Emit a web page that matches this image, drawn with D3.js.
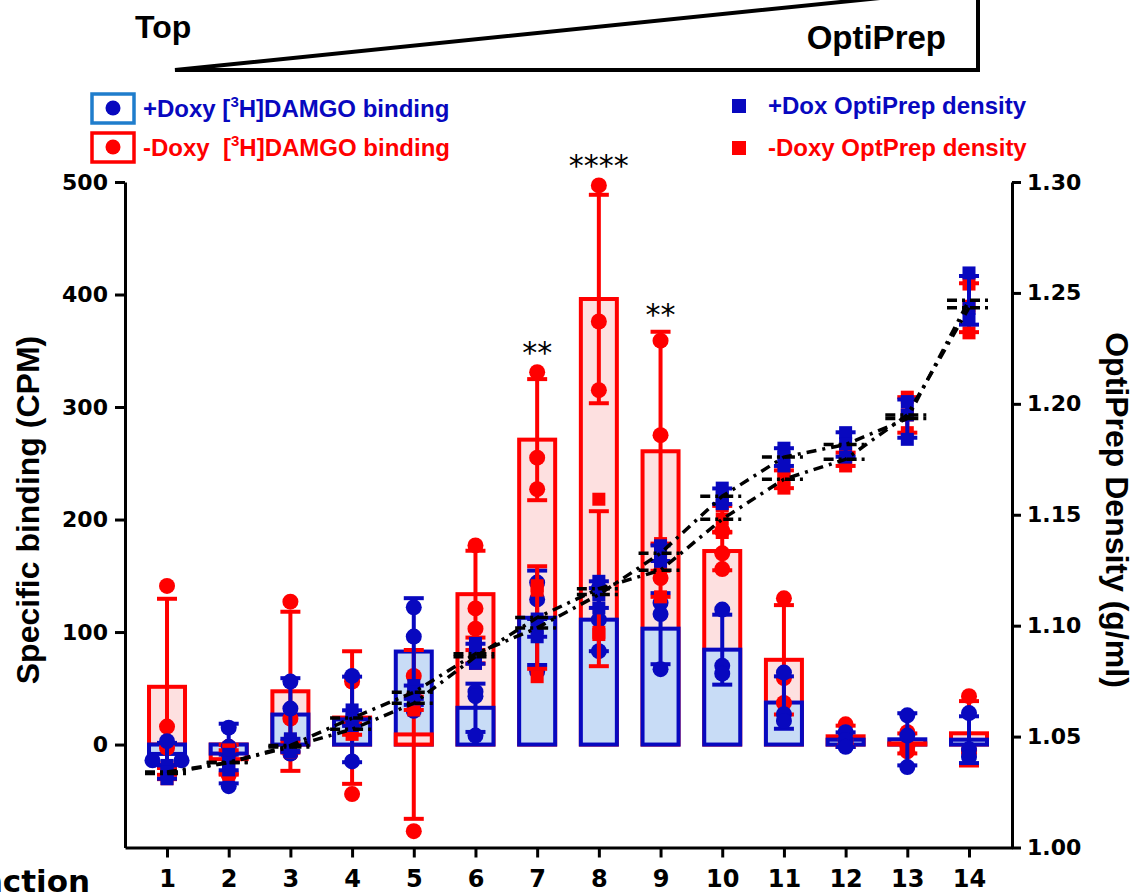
<!DOCTYPE html>
<html>
<head>
<meta charset="utf-8">
<script src="https://cdn.jsdelivr.net/npm/d3@7"></script>
<style>
  body { margin: 0; background: #fff; }
  svg { display: block; }
</style>
</head>
<body>
<div id="chart"></div>
<script>
// Fractions of the OptiPrep gradient (top -> bottom)
const fractions = d3.range(1, 15);

// [3H]DAMGO specific binding (CPM), three replicates per fraction
const plusBinding = [
  [3, -14, -14], [15, -37, -2], [56, 32, -8], [61, 21, -15], [122, 96, 30],
  [47, 43, 8], [144, 129, 65], [139, 111, 83], [126, 116, 67], [120, 70, 63],
  [64, 27, 21], [11, 4, -2], [26, 8, -20], [28, -4, -11]
];
const minusBinding = [
  [141, 16, -3], [-2, -10, -27], [127, 23, -8], [60, 56, -44], [61, 43, -77],
  [177, 121, 103], [331, 255, 227], [497, 376, 315], [359, 275, 148], [190, 170, 156],
  [130, 59, 37], [18, 4, 0], [11, -2, -6], [43, -5, -8]
];

// OptiPrep density (g/ml), three replicates per fraction
const plusDensity = [
  [1.037, 1.034, 1.031], [1.042, 1.038, 1.035], [1.049, 1.046, 1.043], [1.062, 1.058, 1.055],
  [1.073, 1.070, 1.067], [1.092, 1.087, 1.083], [1.103, 1.099, 1.095], [1.120, 1.114, 1.108],
  [1.136, 1.133, 1.129], [1.162, 1.158, 1.155], [1.180, 1.176, 1.172], [1.187, 1.182, 1.176],
  [1.201, 1.195, 1.184], [1.259, 1.243, 1.238]
];
const minusDensity = [
  [1.036, 1.033, 1.031], [1.044, 1.038, 1.033], [1.048, 1.045, 1.043], [1.056, 1.053, 1.051],
  [1.068, 1.065, 1.062], [1.089, 1.086, 1.083], [1.118, 1.116, 1.077], [1.157, 1.097, 1.096],
  [1.137, 1.125, 1.113], [1.154, 1.148, 1.142], [1.170, 1.166, 1.162], [1.178, 1.175, 1.172],
  [1.203, 1.195, 1.187], [1.254, 1.244, 1.232]
];

// significance marks
const stars = [
  {fraction: 7, label: "**", value: 360},
  {fraction: 8, label: "****", value: 526},
  {fraction: 9, label: "**", value: 393}
];

const leftTicks = [0, 100, 200, 300, 400, 500];
const rightTicks = [1.00, 1.05, 1.10, 1.15, 1.20, 1.25, 1.30];

const blue = "#0808bf";
const red = "#ff0000";
const blueFill = "#c8dcf6";
const redFill = "#fde0e0";

const width = 1138, height = 896;

const svg = d3.select("#chart")
  .append("svg")
  .attr("width", width)
  .attr("height", height);

// Scales
const x = d3.scaleLinear().domain([0.319, 14.697]).range([125, 1012]);
const yL = d3.scaleLinear().domain([-91.5, 500]).range([847.5, 182]);
const yR = d3.scaleLinear().domain([1.0, 1.3]).range([847.5, 182]);

const stat = arr => ({mean: d3.mean(arr), sd: d3.deviation(arr)});

// Top gradient triangle
svg.append("path")
  .attr("d", "M175,70 L978,70 L978,-12 Z")
  .attr("fill", "none")
  .attr("stroke", "black")
  .attr("stroke-width", 4)
  .attr("stroke-linejoin", "miter");

svg.append("text")
  .attr("x", 135).attr("y", 38)
  .attr("font-family", "Liberation Sans, Arial, sans-serif")
  .attr("font-weight", "bold")
  .attr("font-size", 32)
  .text("Top");

svg.append("text")
  .attr("x", 946).attr("y", 49)
  .attr("text-anchor", "end")
  .attr("font-family", "Liberation Sans, Arial, sans-serif")
  .attr("font-weight", "bold")
  .attr("font-size", 33)
  .text("OptiPrep");

// Bars: draw the taller one first so the shorter stays visible
const barW = 36;
fractions.forEach((f, i) => {
  const bars = [
    {m: stat(minusBinding[i]).mean, stroke: red, fill: redFill},
    {m: stat(plusBinding[i]).mean, stroke: blue, fill: blueFill}
  ].sort((a, b) => Math.abs(b.m) - Math.abs(a.m));
  bars.forEach(b => {
    svg.append("rect")
      .attr("x", x(f) - barW / 2)
      .attr("y", Math.min(yL(b.m), yL(0)))
      .attr("width", barW)
      .attr("height", Math.abs(yL(b.m) - yL(0)))
      .attr("fill", b.fill)
      .attr("stroke", b.stroke)
      .attr("stroke-width", 4);
  });
});

// error bar + replicate points
function drawSeries(data, scale, color, shape) {
  const g = svg.append("g");
  fractions.forEach((f, i) => {
    const s = stat(data[i]);
    const cx = x(f);
    g.append("line")
      .attr("x1", cx).attr("x2", cx)
      .attr("y1", scale(s.mean - s.sd)).attr("y2", scale(s.mean + s.sd))
      .attr("stroke", color).attr("stroke-width", 4);
    [s.mean - s.sd, s.mean + s.sd].forEach(v => {
      g.append("line")
        .attr("x1", cx - 10).attr("x2", cx + 10)
        .attr("y1", scale(v)).attr("y2", scale(v))
        .attr("stroke", color).attr("stroke-width", 4);
    });
    // spread replicates that sit exactly on top of each other
    const vals = data[i];
    const offs = vals.map((v, k) => {
      const same = vals.map((vv, j) => j).filter(j => vals[j] === v);
      if (same.length < 2) return 0;
      return (same.indexOf(k) - (same.length - 1) / 2) * 29;
    });
    vals.forEach((v, k) => {
      const y = scale(v);
      if (shape === "circle") {
        g.append("circle")
          .attr("cx", cx + offs[k]).attr("cy", y).attr("r", 8)
          .attr("fill", color);
      } else {
        g.append("rect")
          .attr("x", cx + offs[k] - 6.5).attr("y", y - 6.5)
          .attr("width", 13).attr("height", 13)
          .attr("fill", color);
      }
    });
  });
}

drawSeries(minusBinding, yL, red, "circle");
drawSeries(plusBinding, yL, blue, "circle");
drawSeries(minusDensity, yR, red, "square");
drawSeries(plusDensity, yR, blue, "square");

// density means: short mean lines and connecting dash-dot lines
const dashDot = "10,6,3,6";
[minusDensity, plusDensity].forEach(data => {
  const means = data.map(d => d3.mean(d));
  svg.append("g").selectAll("line")
    .data(means)
    .enter()
    .append("line")
    .attr("x1", (d, i) => x(fractions[i]) - 22)
    .attr("x2", (d, i) => x(fractions[i]) + 22)
    .attr("y1", d => yR(d)).attr("y2", d => yR(d))
    .attr("stroke", "black")
    .attr("stroke-width", 3.5)
    .attr("stroke-dasharray", "10,5,3,5");

  const line = d3.line()
    .x((d, i) => x(fractions[i]))
    .y(d => yR(d));
  svg.append("path")
    .datum(means)
    .attr("fill", "none")
    .attr("stroke", "black")
    .attr("stroke-width", 3.5)
    .attr("stroke-dasharray", dashDot)
    .attr("d", line);
});

// Axes
const styleAxis = (g, size) => {
  g.selectAll("path, line").attr("stroke", "black").attr("stroke-width", 3);
  g.selectAll("text")
    .attr("font-family", "DejaVu Sans, sans-serif")
    .attr("font-weight", "bold")
    .attr("font-size", size)
    .attr("fill", "black");
};

svg.append("g")
  .attr("transform", "translate(125,0)")
  .call(d3.axisLeft(yL).tickValues(leftTicks).tickSize(10).tickSizeOuter(0).tickPadding(7))
  .call(g => styleAxis(g, 22));

svg.append("g")
  .attr("transform", "translate(1012,0)")
  .call(d3.axisRight(yR).tickValues(rightTicks).tickFormat(d3.format(".2f"))
    .tickSize(9).tickSizeOuter(0).tickPadding(6))
  .call(g => styleAxis(g, 22));

svg.append("g")
  .attr("transform", "translate(0,847.5)")
  .call(d3.axisBottom(x).tickValues(fractions).tickFormat(d3.format("d"))
    .tickSize(10).tickSizeOuter(0).tickPadding(12))
  .call(g => styleAxis(g, 24));

// x-axis label, partly outside the left edge as in the original figure
svg.append("text")
  .attr("x", 90).attr("y", 892)
  .attr("text-anchor", "end")
  .attr("font-family", "DejaVu Sans, sans-serif")
  .attr("font-weight", "bold")
  .attr("font-size", 31)
  .text("Fraction");

// Axis titles
svg.append("text")
  .attr("transform", "translate(39,510) rotate(-90)")
  .attr("text-anchor", "middle")
  .attr("font-family", "Liberation Sans, Arial, sans-serif")
  .attr("font-weight", "bold")
  .attr("font-size", 32)
  .text("Specific binding (CPM)");

svg.append("text")
  .attr("transform", "translate(1106,510) rotate(90)")
  .attr("text-anchor", "middle")
  .attr("font-family", "Liberation Sans, Arial, sans-serif")
  .attr("font-weight", "bold")
  .attr("font-size", 32)
  .text("OptiPrep Density (g/ml)");

// significance stars
svg.selectAll(".star")
  .data(stars)
  .enter()
  .append("text")
  .attr("x", d => x(d.fraction))
  .attr("y", d => yL(d.value) + 23)
  .attr("text-anchor", "middle")
  .attr("font-family", "DejaVu Sans, sans-serif")
  .attr("font-size", 30)
  .text(d => d.label);

// Legend
const legendFont = "Liberation Sans, Arial, sans-serif";
const bindingLegend = [
  {label: "+Doxy [", rest: "H]DAMGO binding", color: blue, box: "#1f7dcc", y: 108},
  {label: "-Doxy  [", rest: "H]DAMGO binding", color: red, box: red, y: 147}
];
bindingLegend.forEach(d => {
  svg.append("rect")
    .attr("x", 92).attr("y", d.y - 14)
    .attr("width", 42).attr("height", 29)
    .attr("fill", "none")
    .attr("stroke", d.box)
    .attr("stroke-width", 3.5);
  svg.append("circle")
    .attr("cx", 113).attr("cy", d.y).attr("r", 7.5)
    .attr("fill", d.color);
  const t = svg.append("text")
    .attr("x", 143).attr("y", d.y + 9)
    .attr("font-family", legendFont)
    .attr("font-weight", "bold")
    .attr("font-size", 24)
    .attr("fill", d.color)
    .style("white-space", "pre");
  t.append("tspan").text(d.label);
  t.append("tspan").attr("font-size", 15).attr("dy", -10).text("3");
  t.append("tspan").attr("dy", 10).text(d.rest);
});

const densityLegend = [
  {label: "+Dox OptiPrep density", color: blue, y: 106},
  {label: "-Doxy OptPrep density", color: red, y: 148}
];
densityLegend.forEach(d => {
  svg.append("rect")
    .attr("x", 732).attr("y", d.y - 7)
    .attr("width", 14).attr("height", 14)
    .attr("fill", d.color);
  svg.append("text")
    .attr("x", 768).attr("y", d.y + 8)
    .attr("font-family", legendFont)
    .attr("font-weight", "bold")
    .attr("font-size", 24)
    .attr("fill", d.color)
    .text(d.label);
});
</script>
</body>
</html>
